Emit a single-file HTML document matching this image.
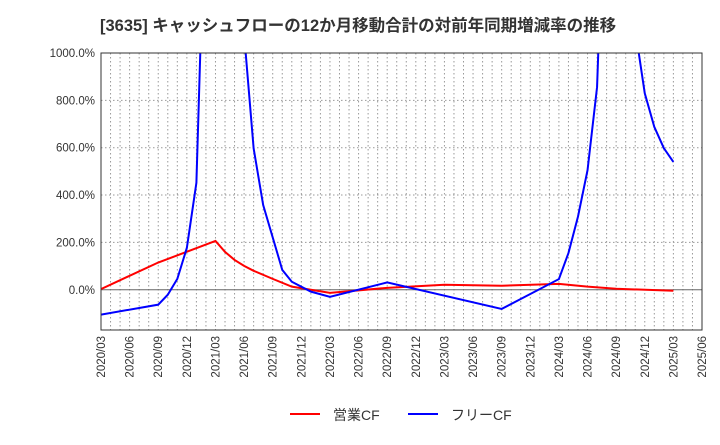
<!DOCTYPE html>
<html><head><meta charset="utf-8"><style>
body{margin:0;background:#fff;width:720px;height:440px;overflow:hidden;font-family:"Liberation Sans","Noto Sans CJK JP",sans-serif;}
</style></head><body>
<svg id="chart" width="720" height="440" xmlns="http://www.w3.org/2000/svg">
<text x="100" y="31" font-size="16.5" font-weight="bold" fill="#333">[3635]  キャッシュフローの12か月移動合計の対前年同期増減率の推移</text>
<g id="grid"></g><g id="series"></g><g id="axes"></g>
<g>
<line x1="290" y1="414" x2="320" y2="414" stroke="#ff0000" stroke-width="2"/>
<text x="333" y="420" font-size="14" fill="#333">営業CF</text>
<line x1="408" y1="414" x2="438" y2="414" stroke="#0000ff" stroke-width="2"/>
<text x="451" y="420" font-size="14" fill="#333">フリーCF</text>
</g>
</svg>
<script>
const xTickLabels=["2020/03","2020/06","2020/09","2020/12","2021/03","2021/06","2021/09","2021/12","2022/03","2022/06","2022/09","2022/12","2023/03","2023/06","2023/09","2023/12","2024/03","2024/06","2024/09","2024/12","2025/03","2025/06"];
const yTickValues=[0,200,400,600,800,1000];
const redMonths=[0,6,12,13,14,15,16,18,20,24,30,36,42,48,51,54,60];
const redValues=[3,115,206,160,126,101,80,46,13,-13,8,21,17,25,13,4,-4];
const blueMonths=[0,6,7,8,9,10,11,12,14,15,16,17,19,20,22,24,30,42,48,49,50,51,52,53,54,56,57,58,59,60];
const blueValues=[-105,-63,-21,46,177,452,1800,3000,3000,1080,597,358,84,34,-8,-30,31,-81,45,155,309,505,856,2000,2500,1100,830,688,598,540];
const X0=101,X1=702,Y0=53,Y1=330,NM=63;
const yMin=-170,yMax=1000;
const xs=m=>X0+(X1-X0)*m/NM;
const ys=v=>Y1-(v-yMin)/(yMax-yMin)*(Y1-Y0);
const NS="http://www.w3.org/2000/svg";
function mk(t,a,p){const e=document.createElementNS(NS,t);for(const k in a)e.setAttribute(k,a[k]);p.appendChild(e);return e;}
const grid=document.getElementById('grid'),axes=document.getElementById('axes'),ser=document.getElementById('series');
const defs=mk('defs',{},document.getElementById('chart'));
const cp=mk('clipPath',{id:'clip'},defs);mk('rect',{x:X0,y:Y0,width:X1-X0,height:Y1-Y0},cp);
for(let m=1;m<NM;m++){const l=mk('line',{x1:xs(m),x2:xs(m),y1:Y0,y2:Y1,stroke:'#999','stroke-dasharray':'1.5,2.5','stroke-width':1},grid);

}
yTickValues.forEach(v=>{const l=mk('line',{x1:X0,x2:X1,y1:ys(v),y2:ys(v),stroke:v===0?'#666':'#999','stroke-dasharray':v===0?'none':'1.5,2.5','stroke-width':1},grid);


const t=mk('text',{x:X0-6,y:ys(v)+4,'text-anchor':'end','font-size':11.5,fill:'#333'},axes);t.textContent=v.toFixed(1)+'%';

});
xTickLabels.forEach((s,i)=>{const x=xs(i*3);const t=mk('text',{x:0,y:0,transform:`translate(${x+4},${Y1+6}) rotate(-90)`,'text-anchor':'end','font-size':11.5,fill:'#333'},axes);t.textContent=s;

});
const fr=mk('rect',{x:X0,y:Y0,width:X1-X0,height:Y1-Y0,fill:'none',stroke:'#333','stroke-width':1},axes);


function line(ms,vs,c,name){const p=mk('polyline',{points:ms.map((m,i)=>xs(m)+','+ys(vs[i])).join(' '),fill:'none',stroke:c,'stroke-width':2,'clip-path':'url(#clip)'},ser);

}
line(redMonths,redValues,'#ff0000','operating-cf-line');
line(blueMonths,blueValues,'#0000ff','free-cf-line');
</script>
</body></html>
